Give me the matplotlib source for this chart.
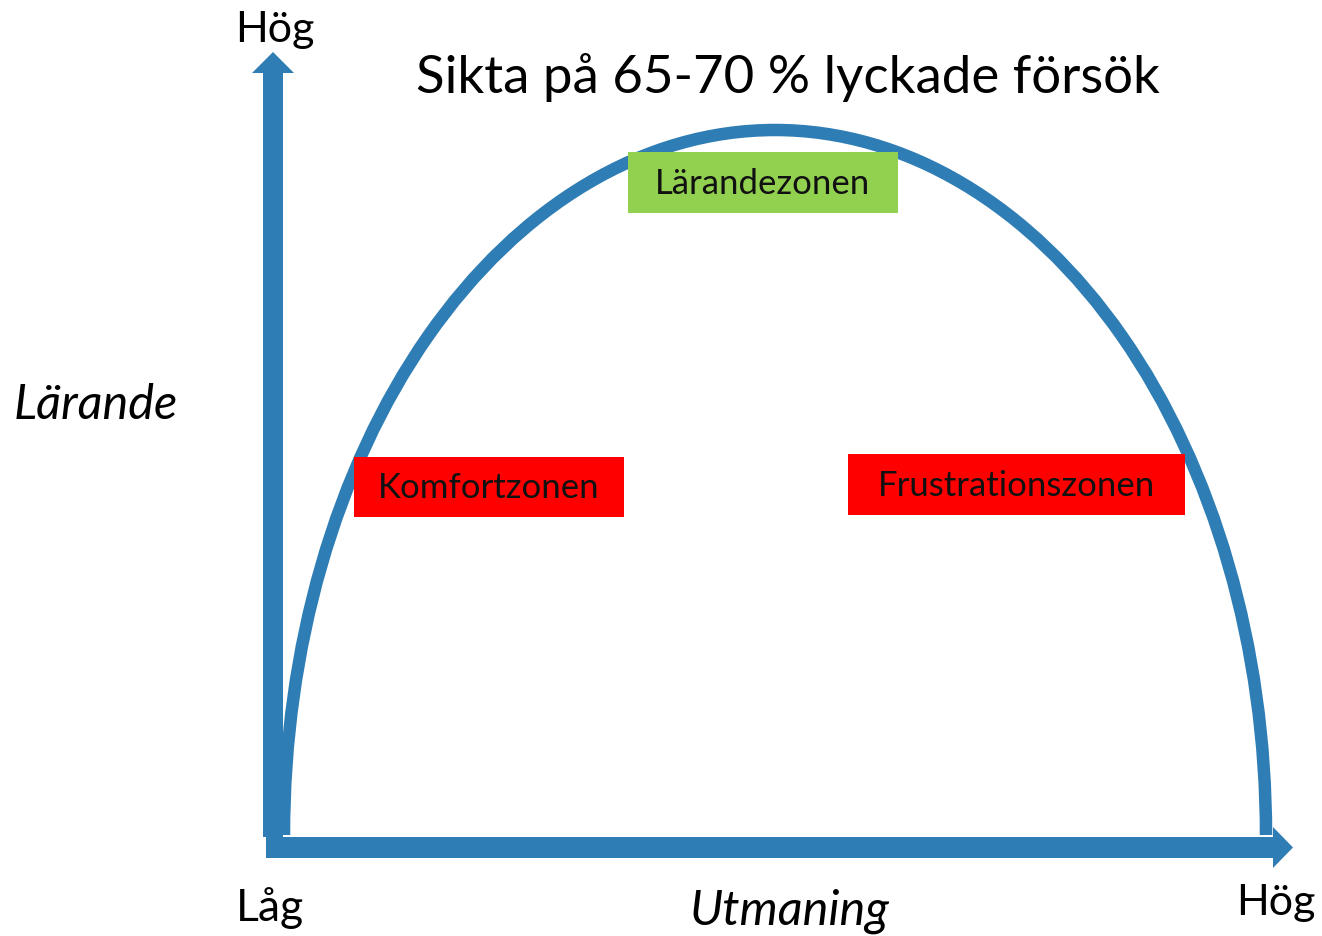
import matplotlib
matplotlib.use("Agg")
import matplotlib.pyplot as plt
from matplotlib.patches import Arc, FancyArrow, Rectangle

plt.rcParams['font.family'] = ['Lato', 'DejaVu Sans']

# ---- content ----
title = "Sikta på 65-70 % lyckade försök"
y_label = "Lärande"
x_label = "Utmaning"
low_label = "Låg"
high_label = "Hög"

zone_names = ["Komfortzonen", "Lärandezonen", "Frustrationszonen"]
zone_colors = ["#FF0000", "#92D050", "#FF0000"]
# box extents in pixel space: left, top, right, bottom
zone_left = [354, 628, 848]
zone_top = [457, 152, 454]
zone_right = [624, 898, 1185]
zone_bottom = [517, 213, 515]

# learning curve (semi-ellipse): left foot, right foot, baseline, peak
curve_left, curve_right = 284, 1266
curve_base, curve_peak = 835, 130

blue = "#2E7DB4"

W, H = 1322, 936
fig = plt.figure(figsize=(W / 100, H / 100), dpi=100)
ax = fig.add_axes([0, 0, 1, 1])
ax.set_xlim(0, W)
ax.set_ylim(H, 0)
ax.axis("off")

# axes arrows
ax.add_patch(FancyArrow(273, 837, 0, -(837 - 52), width=20, head_width=42,
                        head_length=21, length_includes_head=True,
                        color=blue, lw=0, zorder=2))
ax.add_patch(FancyArrow(266, 847.5, 1293 - 266, 0, width=21, head_width=41,
                        head_length=20, length_includes_head=True,
                        color=blue, lw=0, zorder=2))

# curve
cx = (curve_left + curve_right) / 2
ax.add_patch(Arc((cx, curve_base), curve_right - curve_left,
                 2 * (curve_base - curve_peak), theta1=180, theta2=360,
                 color=blue, lw=9, zorder=3, capstyle="butt"))

# zone boxes
for name, c, l, t, r, b in zip(zone_names, zone_colors, zone_left, zone_top,
                               zone_right, zone_bottom):
    ax.add_patch(Rectangle((l, t), r - l, b - t, facecolor=c, edgecolor="none", zorder=4))
    ax.text((l + r) / 2, (t + b) / 2 + 1, name, ha="center", va="center",
            fontsize=25, color="#111111", zorder=5)

# texts
ax.text(788, 78, title, ha="center", va="center", fontsize=38, color="black")
ax.text(275, 30, high_label, ha="center", va="center", fontsize=31, color="black")
ax.text(1276, 903, high_label, ha="center", va="center", fontsize=31, color="black")
ax.text(270, 908, low_label, ha="center", va="center", fontsize=32, color="black")
ax.text(96, 405, y_label, ha="center", va="center", fontsize=35, style="italic", color="black")
ax.text(790, 911, x_label, ha="center", va="center", fontsize=35, style="italic", color="black")

fig.savefig("out.png", dpi=100, facecolor="white")
